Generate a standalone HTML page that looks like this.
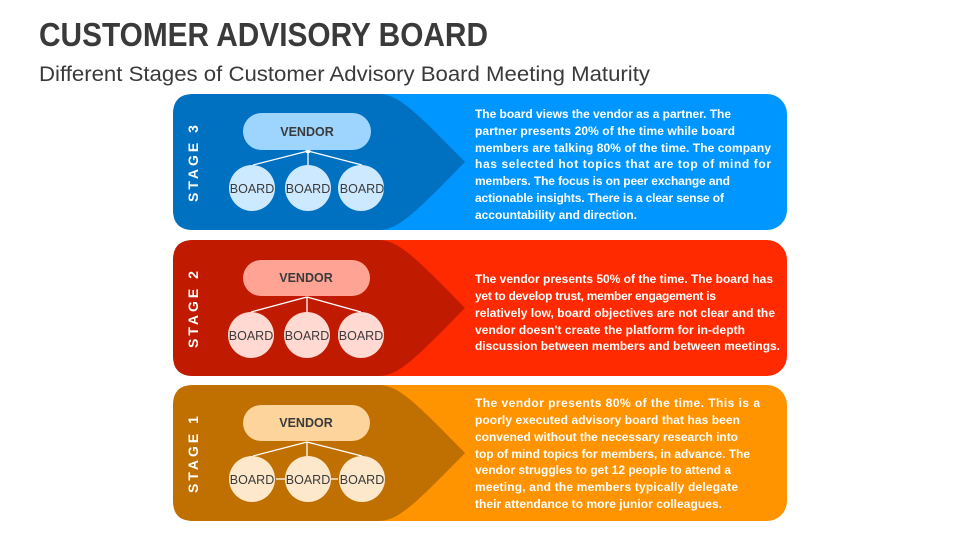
<!DOCTYPE html>
<html><head><meta charset="utf-8"><style>
body{margin:0;background:#fff;}
svg{display:block;font-family:"Liberation Sans",sans-serif;}
</style></head><body>
<svg width="960" height="540" viewBox="0 0 960 540">
<text x="39" y="46" font-size="33" font-weight="bold" fill="#3a3a3a" textLength="449" lengthAdjust="spacingAndGlyphs">CUSTOMER ADVISORY BOARD</text>
<text x="39" y="81" font-size="21" fill="#3a3a3a" textLength="611" lengthAdjust="spacingAndGlyphs">Different Stages of Customer Advisory Board Meeting Maturity</text>

<defs>
<g id="dark"><path d="M20,0 H205 C225,0 240,15 292,68 C240,121 225,136 205,136 H20 Q0,136 0,116 V20 Q0,0 20,0Z"/></g>
</defs>

<g transform="translate(173,94)">
<rect width="614" height="136" rx="20" fill="#0096FF"/>
<use href="#dark" fill="#0070C0"/>
</g>
<g transform="translate(173,240)">
<rect width="614" height="136" rx="20" fill="#FF2A00"/>
<use href="#dark" fill="#C01A00"/>
</g>
<g transform="translate(173,385)">
<rect width="614" height="136" rx="20" fill="#FF9300"/>
<use href="#dark" fill="#C07000"/>
</g>

<g font-weight="bold" font-size="14" fill="#fff" letter-spacing="3">
<text transform="translate(198,162) rotate(-90)" text-anchor="middle">STAGE 3</text>
<text transform="translate(198,308) rotate(-90)" text-anchor="middle">STAGE 2</text>
<text transform="translate(198,453) rotate(-90)" text-anchor="middle">STAGE 1</text>
</g>

<g stroke="#fff" stroke-width="1.3" fill="none">
<path d="M308,151 L253,165 M308,151 V165 M308,151 L362,165"/>
<path d="M307,297 L251,312 M307,297 V312 M307,297 L361,312"/>
<path d="M307,442 L253,456 M307,442 V456 M307,442 L362,456"/>
<path d="M276,479 H285 M331,479 H338"/>
</g>
<circle cx="308" cy="151" r="2.5" fill="#fff"/>
<rect x="243" y="113" width="128" height="37" rx="18.5" fill="#9DD5FF"/>
<rect x="243" y="260" width="127" height="36" rx="18" fill="#FFA495"/>
<rect x="243" y="405" width="127" height="36" rx="18" fill="#FDD49B"/>
<g fill="#CCE9FF"><circle cx="252" cy="188" r="23"/><circle cx="308" cy="188" r="23"/><circle cx="361" cy="188" r="23"/></g>
<g fill="#FFD9D2"><circle cx="251" cy="335" r="23"/><circle cx="307" cy="335" r="23"/><circle cx="361" cy="335" r="23"/></g>
<g fill="#FEE8CC"><circle cx="252" cy="479" r="23"/><circle cx="308" cy="479" r="23"/><circle cx="362" cy="479" r="23"/></g>
<g font-size="12.5" fill="#3a3a3a" text-anchor="middle">
<text x="307" y="136" font-weight="bold">VENDOR</text>
<text x="306" y="282" font-weight="bold">VENDOR</text>
<text x="306" y="427" font-weight="bold">VENDOR</text>
<text x="252" y="193">BOARD</text><text x="308" y="193">BOARD</text><text x="362" y="193">BOARD</text>
<text x="251" y="340">BOARD</text><text x="307" y="340">BOARD</text><text x="361" y="340">BOARD</text>
<text x="252" y="484">BOARD</text><text x="308" y="484">BOARD</text><text x="362" y="484">BOARD</text>
</g>

<g font-size="12" font-weight="bold" fill="#fff" lengthAdjust="spacingAndGlyphs">
<text x="475" y="118" textLength="256">The board views the vendor as a partner. The</text>
<text x="475" y="135" textLength="260">partner presents 20% of the time while board</text>
<text x="475" y="152" textLength="296">members are talking 80% of the time.  The company</text>
<text x="475" y="168" textLength="296">has selected hot topics that are top of mind for</text>
<text x="475" y="185" textLength="255">members. The focus is on peer exchange and</text>
<text x="475" y="202" textLength="249">actionable insights. There is a clear sense of</text>
<text x="475" y="219" textLength="162">accountability and direction.</text>

<text x="475" y="283" textLength="298">The vendor presents 50% of the time. The board has</text>
<text x="475" y="300" textLength="241">yet to develop trust, member engagement is</text>
<text x="475" y="317" textLength="300">relatively low, board objectives are not clear and the</text>
<text x="475" y="334" textLength="270">vendor doesn't create the platform for in-depth</text>
<text x="475" y="350" textLength="305">discussion between members and between meetings.</text>

<text x="475" y="407" textLength="285">The vendor presents 80% of the time. This is a</text>
<text x="475" y="424" textLength="265">poorly executed advisory board that has been</text>
<text x="475" y="441" textLength="263">convened without the necessary research into</text>
<text x="475" y="458" textLength="275">top of mind topics for members, in advance. The</text>
<text x="475" y="474" textLength="256">vendor struggles to get 12 people to attend a</text>
<text x="475" y="491" textLength="263">meeting, and the members typically delegate</text>
<text x="475" y="508" textLength="247">their attendance to more junior colleagues.</text>
</g>
</svg>
</body></html>
